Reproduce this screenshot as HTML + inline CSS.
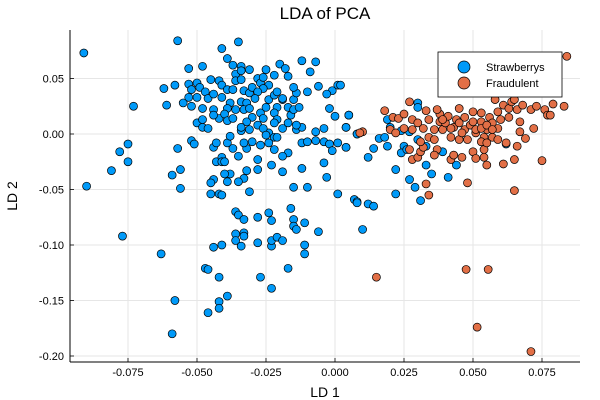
<!DOCTYPE html>
<html><head><meta charset="utf-8"><style>
body{margin:0;background:#fff}
svg{display:block;font-family:"Liberation Sans",sans-serif}
</style></head><body>
<svg id="chart" width="600" height="400" viewBox="0 0 600 400" xmlns="http://www.w3.org/2000/svg">
<text x="325" y="19" font-size="17" text-anchor="middle">LDA of PCA</text>
<text x="325" y="397" font-size="14" text-anchor="middle">LD 1</text>
<text x="0" y="0" font-size="14" text-anchor="middle" transform="translate(17,196) rotate(-90)">LD 2</text>
<g id="grid"></g>
<g id="axes"></g>
<g id="blue"></g>
<g id="orange"></g>
<g>
<rect x="438" y="52" width="124" height="45" fill="#fff" stroke="#000" stroke-width="0.8"/>
<circle cx="464" cy="67" r="6" fill="#009AF9" stroke="#000" stroke-width="0.7"/>
<text x="486" y="71" font-size="11">Strawberrys</text>
<circle cx="464" cy="83" r="6" fill="#E26F46" stroke="#000" stroke-width="0.7"/>
<text x="486" y="87" font-size="11">Fraudulent</text>
</g>
</svg>
<script>
const xTicks=[-0.075,-0.05,-0.025,0,0.025,0.05,0.075];
const xTickLabels=["-0.075","-0.050","-0.025","0.000","0.025","0.050","0.075"];
const yTicks=[0.05,0,-0.05,-0.1,-0.15,-0.2];
const yTickLabels=["0.05","0.00","-0.05","-0.10","-0.15","-0.20"];
const blueX=[-0.091,-0.057,-0.035,-0.041,-0.090,-0.073,-0.075,-0.078,-0.075,-0.081,-0.062,-0.061,-0.058,-0.057,-0.056,-0.059,-0.056,-0.053,-0.048,-0.012,-0.007,-0.020,-0.018,-0.009,0.001,-0.001,-0.003,-0.006,-0.010,-0.002,0,0.005,0.004,0.008,-0.004,-0.007,-0.012,-0.010,-0.007,-0.004,-0.002,0.001,0.004,-0.001,-0.004,-0.003,-0.012,-0.015,-0.010,0.001,0.007,0.008,-0.019,-0.017,-0.019,-0.023,-0.028,-0.028,-0.027,-0.022,-0.032,-0.032,-0.033,-0.035,-0.031,-0.038,-0.040,-0.039,-0.044,-0.045,-0.045,-0.042,-0.041,-0.043,-0.041,-0.041,-0.040,-0.044,-0.043,-0.039,-0.037,-0.035,-0.033,-0.030,-0.024,-0.022,-0.034,-0.038,-0.052,-0.051,-0.050,-0.048,-0.048,-0.046,-0.052,-0.055,-0.053,-0.050,-0.053,-0.050,-0.052,-0.049,-0.047,-0.046,-0.048,-0.045,-0.044,-0.042,-0.041,-0.044,-0.042,-0.044,-0.039,-0.037,-0.034,-0.036,-0.031,-0.034,-0.036,-0.034,-0.041,-0.039,-0.037,-0.038,-0.039,-0.040,-0.039,-0.037,-0.036,-0.034,-0.033,-0.031,-0.030,-0.028,-0.027,-0.026,-0.024,-0.026,-0.028,-0.029,-0.032,-0.033,-0.031,-0.030,-0.032,-0.034,-0.031,-0.028,-0.026,-0.025,-0.027,-0.026,-0.025,-0.024,-0.022,-0.021,-0.019,-0.021,-0.022,-0.021,-0.022,-0.019,-0.017,-0.016,-0.017,-0.015,-0.015,-0.013,-0.014,-0.015,-0.014,-0.012,-0.021,-0.024,-0.014,-0.017,-0.022,-0.025,-0.019,
-0.077,-0.063,-0.058,-0.059,-0.047,-0.046,-0.042,-0.039,-0.042,-0.042,-0.046,-0.044,-0.041,-0.036,-0.036,-0.034,-0.033,-0.033,-0.036,-0.035,-0.033,-0.028,-0.028,-0.024,-0.023,-0.023,-0.023,-0.021,-0.019,-0.027,-0.023,-0.017,-0.016,-0.015,-0.015,-0.014,-0.011,-0.011,-0.011,-0.006,0.010,0.008,0.012,0.014,0.031,
0.002,0.005,0.004,0.008,0.004,0.014,0.012,0.016,0.018,0.019,0.019,0.020,0.024,0.027,0.025,0.024,0.026,0.030,0.030,0.030,0.033,0.022,0.035,0.041,0.044,0.027,0.029,0.022,0.039,0.062,0.033];
const blueY=[0.073,0.084,0.083,0.077,-0.047,0.025,-0.009,-0.016,-0.025,-0.033,0.041,0.026,0.044,-0.013,-0.032,-0.037,-0.049,0.059,0.061,0.066,0.065,0.063,0.059,0.056,0.044,0.039,0.036,0.043,0.038,0.023,0.016,0.017,0.006,0,0.005,0.002,-0.008,-0.007,-0.006,-0.007,-0.009,-0.008,-0.012,-0.015,-0.026,-0.039,-0.031,-0.048,-0.048,-0.054,-0.059,-0.061,-0.034,-0.017,-0.020,-0.028,-0.032,-0.023,-0.010,-0.014,-0.013,-0.033,-0.040,-0.043,-0.052,-0.036,-0.036,-0.043,-0.041,-0.044,-0.054,-0.054,-0.055,-0.025,-0.021,-0.025,-0.025,-0.012,-0.008,-0.008,-0.013,-0.020,-0.008,-0.007,0.001,-0.003,0.003,-0.002,-0.006,-0.009,0.010,0.013,0.006,0.005,0.025,0.028,0.033,0.033,0.045,0.046,0.040,0.042,0.038,0.032,0.023,0.049,0.036,0.048,0.044,0.022,0.014,0.017,0.068,0.062,0.061,0.054,0.058,0.057,0.048,0.049,0.033,0.040,0.040,0.028,0.023,0.018,0.012,0.014,0.022,0.029,0.039,0.037,0.042,0.050,0.046,0.051,0.044,0.041,0.038,0.032,0.028,0.022,0.023,0.015,0.011,0.006,0.004,0.008,0.005,-0.001,0.019,0.014,0.024,0.031,0.035,0.038,0.031,0.024,0.019,0.013,0.010,0.005,0.010,0.017,0.024,0.022,0.031,0.024,0.037,0.042,0.004,0.006,-0.003,-0.008,0.008,0.052,0.053,0.058,0.032,
-0.092,-0.108,-0.150,-0.180,-0.121,-0.122,-0.129,-0.146,-0.151,-0.157,-0.161,-0.102,-0.100,-0.090,-0.096,-0.101,-0.089,-0.092,-0.070,-0.073,-0.077,-0.098,-0.075,-0.071,-0.078,-0.101,-0.096,-0.093,-0.096,-0.129,-0.139,-0.121,-0.067,-0.077,-0.083,-0.086,-0.080,-0.100,-0.108,-0.088,-0.086,-0.062,-0.063,-0.065,-0.060,
0.044,0.017,0.006,0,-0.012,-0.013,-0.021,-0.004,-0.003,-0.011,0.013,0.006,0.003,0.002,-0.011,-0.017,-0.014,-0.005,0.028,0.024,-0.028,-0.032,-0.036,-0.039,-0.028,-0.041,-0.048,-0.054,-0.016,-0.009,-0.011];
const orangeX=[0.084,0.027,0.018,0.010,0.009,0.021,0.023,0.020,0.022,0.025,0.028,0.030,0.028,0.027,0.028,0.030,0.031,0.032,0.033,0.034,0.033,0.034,0.032,0.034,0.036,0.036,0.037,0.038,0.038,0.039,0.040,0.041,0.042,0.043,0.044,0.045,0.045,0.046,0.047,0.047,0.048,0.049,0.050,0.050,0.051,0.051,0.053,0.053,0.054,0.054,0.055,0.055,0.056,0.057,0.057,0.058,0.059,0.059,0.060,0.061,0.061,0.062,0.063,0.063,0.064,0.065,0.065,0.065,0.066,0.066,0.067,0.067,0.068,0.069,0.071,0.072,0.073,0.075,0.076,0.077,0.078,0.079,0.083,0.042,0.043,0.036,0.048,0.054,0.053,0.055,0.037,0.025,0.031,0.039,0.042,0.045,0.046,0.050,0.051,0.053,0.055,0.057,0.059,0.015,0.0475,0.0555,0.0515,0.071];
const orangeY=[0.070,0.029,0.021,0.002,0.001,0.015,0.014,0.004,0.001,0.018,0.013,0.010,0.004,-0.014,-0.023,-0.021,-0.016,-0.012,-0.045,-0.055,0.021,0.013,0.005,-0.003,0.004,-0.005,-0.014,0.018,0.011,0.004,0.010,0.016,-0.003,0.006,0.013,0.023,-0.005,-0.021,0.015,0.004,-0.005,0.008,-0.016,0.020,-0.022,0.001,0.011,0.019,-0.014,-0.021,0.004,-0.028,0.015,-0.003,0.010,0.031,0.020,0.005,0.013,0.026,-0.027,-0.008,0.015,0.023,0.029,0.031,-0.023,-0.051,-0.011,0.022,0.011,0.002,0.026,-0.004,0.022,0.005,0.025,-0.024,0.022,0.017,0.017,0.027,0.025,-0.023,-0.019,-0.019,-0.044,-0.003,-0.007,-0.008,0.022,0.005,-0.007,0.013,0.005,0.010,0.001,0.011,0.004,0.005,0.008,0.004,-0.005,-0.129,-0.122,-0.122,-0.174,-0.196];

const L=70,R=580,T=30,B=362;
const sx=v=>335+v*2760;
const sy=v=>134-v*1110;
const NS="http://www.w3.org/2000/svg";
function mk(tag,attrs,parent){const e=document.createElementNS(NS,tag);for(const k in attrs)e.setAttribute(k,attrs[k]);parent.appendChild(e);return e;}
const grid=document.getElementById('grid'),axes=document.getElementById('axes');
xTicks.forEach((t,i)=>{
  const g=mk('line',{x1:sx(t),x2:sx(t),y1:T,y2:B,stroke:'#e6e6e6','stroke-width':1},grid);
  
  
  const tk=mk('line',{x1:sx(t),x2:sx(t),y1:B,y2:B-4,stroke:'#000','stroke-width':0.8},axes);
  
  
  const tx=mk('text',{x:sx(t),y:B+14,'font-size':11,'text-anchor':'middle'},axes);
  tx.textContent=xTickLabels[i];
  
  
});
yTicks.forEach((t,i)=>{
  const g=mk('line',{x1:L,x2:R,y1:sy(t),y2:sy(t),stroke:'#e6e6e6','stroke-width':1},grid);
  
  
  const tk=mk('line',{x1:L,x2:L+4,y1:sy(t),y2:sy(t),stroke:'#000','stroke-width':0.8},axes);
  
  
  const tx=mk('text',{x:L-6,y:sy(t)+4,'font-size':11,'text-anchor':'end'},axes);
  tx.textContent=yTickLabels[i];
  
  
});
const ax1=mk('line',{x1:L,x2:L,y1:T,y2:B,stroke:'#000','stroke-width':1},axes);


const ax2=mk('line',{x1:L,x2:R,y1:B,y2:B,stroke:'#000','stroke-width':1},axes);


function draw(xs,ys,col,gid,name){
  const g=document.getElementById(gid);
  for(let i=0;i<xs.length;i++){
    const c=mk('circle',{cx:sx(xs[i]),cy:sy(ys[i]),r:4,fill:col,stroke:'#000','stroke-width':0.7},g);
    
    
  }
}
draw(blueX,blueY,'#009AF9','blue','strawberrys-point');
draw(orangeX,orangeY,'#E26F46','orange','fraudulent-point');
</script>
</body></html>
